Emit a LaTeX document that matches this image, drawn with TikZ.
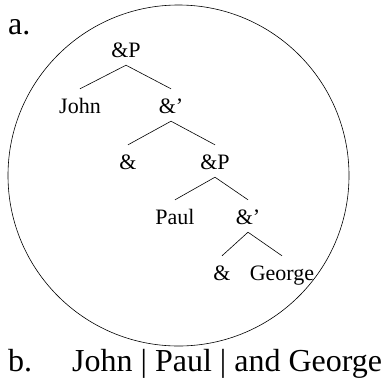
\documentclass[tikz,border=0pt]{standalone}
\usepackage{fontspec}
\setmainfont{Liberation Serif}
\begin{document}
\begin{tikzpicture}[x=1pt,y=-1pt,
  lbl/.style={inner sep=0pt, anchor=base, font=\fontsize{22}{26}\selectfont, text height=24pt, text depth=8pt},
  big/.style={inner sep=0pt, anchor=base west, font=\fontsize{32}{38}\selectfont},
  branch/.style={line width=0.6pt}]
\useasboundingbox (0,0) rectangle (387,383);
\node[big] (a) at (8,34) {a.};
\draw[line width=0.6pt] (178.5,175.5) circle[radius=170.5];
\node[lbl] (p1) at (126,57) {\&P};
\node[lbl] (john) at (80,113) {John};
\node[lbl] (b1) at (171,113) {\&’};
\node[lbl] (c1) at (128,169) {\&};
\node[lbl] (p2) at (215,169) {\&P};
\node[lbl] (paul) at (175,224) {Paul};
\node[lbl] (b2) at (248,224) {\&’};
\node[lbl] (c2) at (222,280) {\&};
\node[lbl] (george) at (282,280) {George};
\draw[branch] (p1.south) -- (john.north);
\draw[branch] (p1.south) -- (b1.north);
\draw[branch] (b1.south) -- (c1.north);
\draw[branch] (b1.south) -- (p2.north);
\draw[branch] (p2.south) -- (paul.north);
\draw[branch] (p2.south) -- (b2.north);
\draw[branch] (b2.south) -- (c2.north);
\draw[branch] (b2.south) -- (george.north);
\node[big] (b) at (8,371) {b.};
\node[big] (line) at (72,371) {John | Paul | and George};
\end{tikzpicture}
\end{document}
